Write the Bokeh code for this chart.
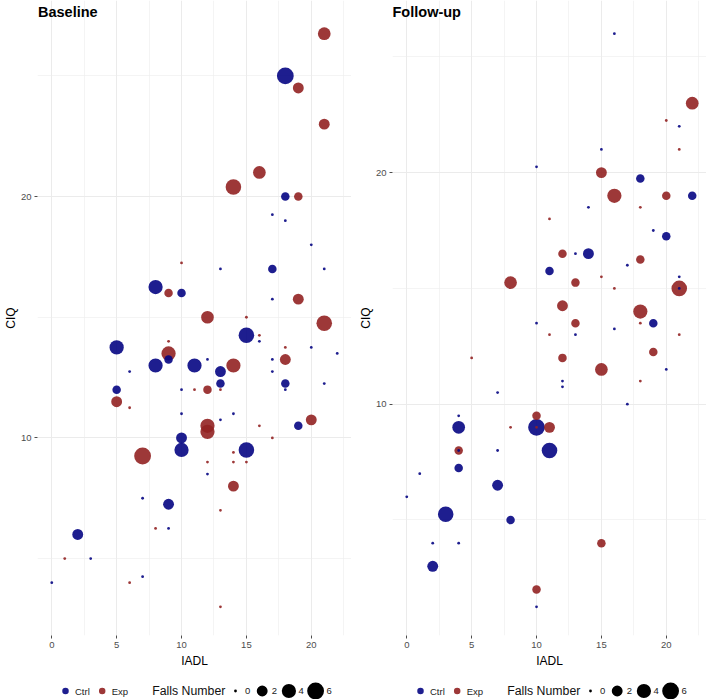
import numpy as np
import pandas as pd
from bokeh.plotting import figure
from bokeh.models import ColumnDataSource, Range1d, FixedTicker, Label
from bokeh.layouts import row, column
from bokeh.embed import file_html
from bokeh.resources import INLINE
from bokeh.core.properties import value

# ---------------- data ----------------
base_iadl = [21, 18, 19, 21, 16, 14, 18, 19, 17, 18,
             20, 10, 13, 17, 21, 8, 9, 10, 17, 19,
             12, 15, 21, 15, 16, 16, 5, 9, 18, 20,
             9, 22, 9, 8, 11, 14, 12, 18, 17, 6,
             13, 17, 13, 18, 21, 5, 10, 11, 12, 13,
             18, 5, 6, 10, 14, 13, 12, 12, 16, 19,
             20, 10, 17, 7, 10, 15, 14, 12, 14, 15,
             12, 14, 7, 9, 13, 2, 8, 9, 1, 3,
             7, 6, 0, 13]
base_ciq = [26.75, 25, 24.5, 23, 21, 20.4, 20, 20, 19.25, 19,
            18, 17.25, 17, 17, 17, 16.25, 16, 16, 15.75, 15.75,
            15, 15, 14.75, 14.25, 14.25, 14, 13.75, 14, 13.75, 13.75,
            13.5, 13.5, 13.25, 13, 13, 13, 13.25, 13.25, 13.25, 12.75,
            12.75, 12.75, 12.25, 12.25, 12.25, 12, 12, 12, 12, 12,
            12, 11.5, 11.25, 11, 11, 10.75, 10.5, 10.25, 10.5, 10.5,
            10.75, 10, 10, 9.25, 9.5, 9.5, 9.4, 9, 9, 9,
            8.5, 8, 7.5, 7.25, 7, 6, 6.25, 6.25, 5, 5,
            4.25, 4, 4, 3]
base_group = ["Exp", "Ctrl", "Exp", "Exp", "Exp", "Exp", "Ctrl", "Exp", "Ctrl", "Ctrl",
              "Ctrl", "Exp", "Ctrl", "Ctrl", "Ctrl", "Ctrl", "Exp", "Ctrl", "Ctrl", "Exp",
              "Exp", "Exp", "Exp", "Ctrl", "Exp", "Ctrl", "Ctrl", "Exp", "Exp", "Ctrl",
              "Exp", "Ctrl", "Ctrl", "Ctrl", "Ctrl", "Exp", "Ctrl", "Exp", "Ctrl", "Ctrl",
              "Ctrl", "Ctrl", "Ctrl", "Ctrl", "Ctrl", "Ctrl", "Ctrl", "Exp", "Exp", "Exp",
              "Ctrl", "Exp", "Exp", "Ctrl", "Ctrl", "Ctrl", "Exp", "Exp", "Exp", "Ctrl",
              "Exp", "Ctrl", "Exp", "Exp", "Ctrl", "Ctrl", "Exp", "Exp", "Exp", "Exp",
              "Ctrl", "Exp", "Ctrl", "Ctrl", "Exp", "Ctrl", "Exp", "Ctrl", "Exp", "Ctrl",
              "Ctrl", "Exp", "Ctrl", "Exp"]
base_falls = [3, 6, 2, 2, 3, 5, 1, 1, 0, 0,
              0, 0, 0, 1, 0, 4, 1, 1, 0, 2,
              3, 0, 5, 5, 0, 0, 4, 0, 0, 0,
              4, 0, 1, 4, 4, 4, 0, 2, 0, 0,
              2, 0, 1, 1, 0, 1, 0, 0, 1, 0,
              0, 2, 0, 0, 0, 0, 4, 4, 0, 1,
              2, 2, 0, 6, 4, 5, 0, 0, 0, 0,
              0, 2, 0, 2, 0, 2, 0, 0, 0, 0,
              0, 0, 0, 0]

follow_iadl = [16, 22, 20, 21, 21, 15, 10, 15, 18, 16,
               20, 22, 14, 18, 11, 19, 20, 12, 13, 14,
               18, 17, 11, 15, 21, 8, 13, 16, 21, 21,
               12, 18, 10, 13, 18, 19, 16, 11, 13, 21,
               12, 19, 15, 20, 5, 12, 12, 18, 7, 17,
               4, 10, 4, 8, 10, 10, 11, 4, 4, 7,
               11, 4, 1, 7, 0, 3, 8, 2, 4, 15,
               2, 10, 10]
follow_ciq = [26, 23, 22.25, 22, 21, 21, 20.25, 20, 19.75, 19,
              19, 19, 18.5, 18.5, 18, 17.5, 17.25, 16.5, 16.5, 16.5,
              16.25, 16, 15.75, 15.5, 15.5, 15.25, 15.25, 15, 15, 15,
              14.25, 14, 13.5, 13.5, 13.5, 13.5, 13.25, 13, 13, 13,
              12, 12.25, 11.5, 11.5, 12, 11, 10.75, 11, 10.5, 10,
              9.5, 9.5, 9, 9, 9, 9, 9, 8, 8, 8,
              8, 7.25, 7, 6.5, 6, 5.25, 5, 4, 4, 4,
              3, 2, 1.25]
follow_group = ["Ctrl", "Exp", "Exp", "Ctrl", "Exp", "Ctrl", "Ctrl", "Exp", "Ctrl", "Exp",
                "Exp", "Ctrl", "Ctrl", "Exp", "Exp", "Ctrl", "Ctrl", "Exp", "Ctrl", "Ctrl",
                "Exp", "Ctrl", "Ctrl", "Exp", "Ctrl", "Exp", "Exp", "Exp", "Exp", "Ctrl",
                "Exp", "Exp", "Ctrl", "Exp", "Exp", "Ctrl", "Ctrl", "Exp", "Ctrl", "Exp",
                "Exp", "Exp", "Exp", "Ctrl", "Exp", "Ctrl", "Ctrl", "Exp", "Ctrl", "Ctrl",
                "Ctrl", "Exp", "Ctrl", "Exp", "Ctrl", "Exp", "Exp", "Exp", "Ctrl", "Ctrl",
                "Ctrl", "Ctrl", "Ctrl", "Ctrl", "Ctrl", "Ctrl", "Ctrl", "Ctrl", "Ctrl", "Exp",
                "Ctrl", "Exp", "Ctrl"]
follow_falls = [0, 3, 0, 0, 0, 0, 0, 2, 1, 4,
                1, 1, 0, 0, 0, 0, 1, 1, 0, 2,
                1, 0, 1, 0, 0, 3, 1, 0, 5, 0,
                2, 4, 0, 1, 0, 1, 0, 0, 0, 0,
                1, 1, 3, 0, 0, 0, 0, 0, 0, 0,
                0, 1, 3, 0, 6, 0, 2, 1, 0, 0,
                5, 1, 0, 2, 0, 5, 1, 0, 0, 1,
                2, 1, 0]

GROUPS = ["Ctrl", "Exp"]
GROUP_COLORS = ["#060683", "#922222"]
FALLS_BREAKS = [0, 2, 4, 6]
X_TICKS = [0, 5, 10, 15, 20]
X_MINOR = [2.5, 7.5, 12.5, 17.5, 22.5]
Y_TICKS = [10, 20]
Y_MINOR = [5, 15, 25]

# ---------------- style / layout ----------------
FONT = "Liberation Sans"
FRAME_W, FRAME_H = 314, 635
TOP_PAD = 4.5        # px of empty frame above the expanded data range (title sits there)
BOTTOM = 34
STRIP_H = 29
KEY_Y = 8.5


def dot_size(f):
    f = np.asarray(f, dtype=float)
    return 2.8 * (1 + 5 * np.sqrt(f / 6.0))


def expand(vals, mult=0.05):
    lo, hi = min(vals), max(vals)
    pad = (hi - lo) * mult
    return lo - pad, hi + pad


def panel(title, title_dx, left, iadl, ciq, group, falls):
    df = pd.DataFrame({"iadl": iadl, "ciq": ciq, "group": group, "falls": falls})
    df = df.sort_values("falls", ascending=False, kind="stable").reset_index(drop=True)
    cmap = dict(zip(GROUPS, GROUP_COLORS))
    df["color"] = df["group"].map(cmap)
    df["size"] = dot_size(df["falls"])
    x0, x1 = expand(iadl)
    y0, y1 = expand(ciq)
    y1 = y1 + (y1 - y0) * TOP_PAD / (FRAME_H - TOP_PAD)
    p = figure(frame_width=FRAME_W, frame_height=FRAME_H,
               x_range=Range1d(x0, x1), y_range=Range1d(y0, y1),
               output_backend="svg", toolbar_location=None,
               min_border_left=left, min_border_right=0,
               min_border_top=0, min_border_bottom=BOTTOM)
    p.outline_line_color = None
    p.scatter("iadl", "ciq", source=ColumnDataSource(df), size="size",
              fill_color="color", line_color=None, fill_alpha=0.9)
    p.xaxis.ticker = FixedTicker(ticks=X_TICKS, minor_ticks=X_MINOR)
    p.yaxis.ticker = FixedTicker(ticks=Y_TICKS, minor_ticks=Y_MINOR)
    p.xaxis.axis_label = "IADL"
    p.yaxis.axis_label = "CIQ"
    for ax in (p.xaxis[0], p.yaxis[0]):
        ax.axis_line_color = None
        ax.major_tick_line_color = "#4D4D4D"
        ax.major_tick_in = 0
        ax.major_tick_out = 3
        ax.minor_tick_line_color = None
        ax.major_label_text_font = FONT
        ax.major_label_text_font_size = "9.5px"
        ax.major_label_text_color = "#4D4D4D"
        ax.major_label_standoff = 2
        ax.axis_label_text_font = FONT
        ax.axis_label_text_font_size = "12px"
        ax.axis_label_text_font_style = "normal"
        ax.axis_label_text_color = "black"
        ax.axis_label_standoff = 3
    p.yaxis[0].axis_label_standoff = 0
    for g in (p.xgrid[0], p.ygrid[0]):
        g.grid_line_color = "#EBEBEB"
        g.grid_line_width = 1
        g.minor_grid_line_color = "#EDEDED"
        g.minor_grid_line_width = 0.6
    p.add_layout(Label(x=title_dx, y=FRAME_H - 11, x_units="screen", y_units="screen",
                       text=title, text_font=FONT, text_font_size="14.5px",
                       text_font_style="bold", text_baseline="middle", text_color="black"))
    return p


def legend_strip(left):
    w = left + FRAME_W
    lf = figure(width=w, height=STRIP_H, x_range=Range1d(0, w), y_range=Range1d(0, STRIP_H),
                x_axis_type=None, y_axis_type=None, output_backend="svg",
                toolbar_location=None, min_border=0)
    lf.outline_line_color = None
    lf.grid.visible = False
    cx = left + FRAME_W / 2.0
    # colour keys
    n = len(GROUPS)
    kx = [cx - 128 + 36.7 * i for i in range(n)]
    lf.scatter(kx, [KEY_Y] * n, size=6.5, fill_color=GROUP_COLORS, line_color=None, fill_alpha=0.9)
    lf.text([x + 9.5 for x in kx], [KEY_Y] * n, text=GROUPS, text_font=value(FONT),
            text_font_size="9.5px", text_baseline="middle", text_align="left", text_color="#222222")
    # size legend title
    lf.text([cx - 41.3], [KEY_Y], text=["Falls Number"], text_font=value(FONT),
            text_font_size="12.3px", text_baseline="middle", text_align="left", text_color="#111111")
    m = len(FALLS_BREAKS)
    sizes = dot_size(FALLS_BREAKS)
    sx = [cx + 42 + 26.7 * i for i in range(m)]
    lf.scatter(sx, [KEY_Y] * m, size=list(sizes), fill_color="black", line_color=None)
    lx = [x + max(9.5, s / 2 + 2.5) for x, s in zip(sx, sizes)]
    lf.text(lx, [KEY_Y] * m, text=[str(b) for b in FALLS_BREAKS],
            text_font=value(FONT), text_font_size="9.5px", text_baseline="middle",
            text_align="left", text_color="#222222")
    return lf


L1, L2 = 36, 41
p1 = panel("Baseline", 0.5, L1, base_iadl, base_ciq, base_group, base_falls)
p2 = panel("Follow-up", 0, L2, follow_iadl, follow_ciq, follow_group, follow_falls)
s1 = legend_strip(L1)
s2 = legend_strip(L2)

layout = column(row(p1, p2), row(s1, s2))
open("out.html", "w").write(file_html(layout, INLINE))
